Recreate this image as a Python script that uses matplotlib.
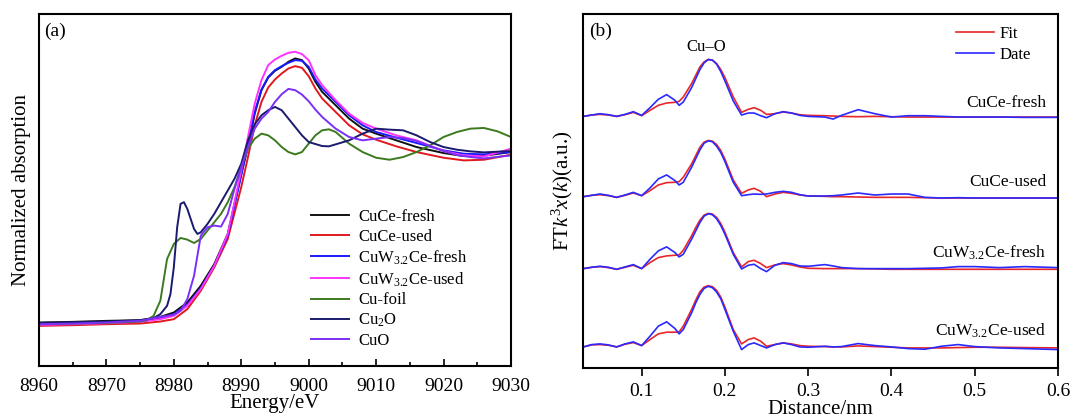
import matplotlib
matplotlib.use("Agg")
import matplotlib.pyplot as plt
from matplotlib.ticker import MultipleLocator

plt.rcParams['font.family'] = ['Liberation Serif', 'DejaVu Serif']
plt.rcParams['mathtext.fontset'] = 'custom'
plt.rcParams['mathtext.rm'] = 'Liberation Serif'
plt.rcParams['mathtext.it'] = 'Liberation Serif:italic'

# ---- (a) XANES ----
E_s = [8960, 8965, 8970, 8975, 8978, 8980, 8982, 8984, 8986, 8988, 8990, 8991, 8992,
       8993, 8994, 8995, 8996, 8997, 8998, 8999, 9000, 9001, 9002, 9004, 9006, 9008,
       9010, 9013, 9016, 9020, 9023, 9026, 9030]
cuce_fresh = [0.01, 0.014, 0.02, 0.024, 0.044, 0.07, 0.13, 0.23, 0.36, 0.54, 0.90, 1.06, 1.26,
              1.40, 1.476, 1.516, 1.54, 1.57, 1.59, 1.58, 1.53, 1.45, 1.39, 1.31, 1.23, 1.17,
              1.14, 1.10, 1.06, 1.024, 1.006, 1.008, 1.03]
cuce_used = [-0.01, -0.006, 0.0, 0.004, 0.016, 0.03, 0.09, 0.20, 0.34, 0.51, 0.82, 1.00, 1.19,
             1.33, 1.416, 1.464, 1.50, 1.53, 1.544, 1.534, 1.484, 1.41, 1.35, 1.27, 1.19, 1.136,
             1.104, 1.064, 1.03, 0.996, 0.98, 0.984, 1.014]
cuwce_fresh = [0.0, 0.004, 0.01, 0.016, 0.036, 0.06, 0.116, 0.216, 0.35, 0.53, 0.89, 1.08, 1.27,
               1.404, 1.48, 1.52, 1.544, 1.564, 1.58, 1.576, 1.54, 1.464, 1.41, 1.33, 1.25, 1.19,
               1.15, 1.116, 1.084, 1.04, 1.02, 1.016, 1.03]
cuwce_used = [-0.004, 0.0, 0.006, 0.014, 0.03, 0.05, 0.11, 0.21, 0.35, 0.54, 0.92, 1.12, 1.32,
              1.46, 1.55, 1.584, 1.606, 1.624, 1.63, 1.616, 1.58, 1.49, 1.43, 1.34, 1.26, 1.204,
              1.17, 1.13, 1.10, 1.036, 1.01, 1.004, 1.05]

E_foil = [8960, 8965, 8970, 8975, 8976, 8977, 8978, 8979, 8980, 8981, 8982, 8983, 8984, 8985,
          8986, 8987, 8988, 8989, 8990, 8991, 8992, 8993, 8994, 8995, 8996, 8997, 8998, 8999,
          9000, 9001, 9002, 9003, 9004, 9006, 9008, 9010, 9012, 9014, 9016, 9018, 9020, 9022,
          9024, 9026, 9028, 9030]
cu_foil = [0.0, 0.004, 0.008, 0.016, 0.024, 0.05, 0.14, 0.39, 0.48, 0.516, 0.506, 0.486, 0.51,
           0.56, 0.61, 0.66, 0.73, 0.82, 0.94, 1.05, 1.11, 1.14, 1.13, 1.10, 1.06, 1.03, 1.016,
           1.03, 1.08, 1.13, 1.16, 1.166, 1.15, 1.08, 1.03, 0.996, 0.984, 1.0, 1.03, 1.07, 1.12,
           1.15, 1.17, 1.174, 1.154, 1.12]

E_cu2o = [8960, 8965, 8970, 8975, 8977, 8978, 8979, 8979.5, 8980, 8980.5, 8981, 8981.5, 8982,
          8982.5, 8983, 8983.5, 8984, 8985, 8986, 8987, 8988, 8989, 8990, 8991, 8992, 8993,
          8994, 8995, 8996, 8997, 8998, 8999, 9000, 9002, 9003, 9004, 9006, 9008, 9010, 9012,
          9014, 9016, 9018, 9020, 9022, 9024, 9026, 9030]
cu2o = [0.008, 0.012, 0.016, 0.024, 0.036, 0.06, 0.11, 0.18, 0.34, 0.58, 0.72, 0.73, 0.69,
        0.63, 0.57, 0.54, 0.55, 0.60, 0.66, 0.73, 0.80, 0.87, 0.96, 1.10, 1.196, 1.25, 1.28,
        1.30, 1.28, 1.23, 1.18, 1.13, 1.09, 1.066, 1.064, 1.076, 1.10, 1.14, 1.17, 1.164, 1.16,
        1.13, 1.09, 1.06, 1.044, 1.034, 1.028, 1.036]

E_cuo = [8960, 8965, 8970, 8975, 8978, 8980, 8981, 8982, 8983, 8983.5, 8984, 8985, 8986, 8987,
         8988, 8989, 8990, 8991, 8992, 8993, 8994, 8995, 8996, 8997, 8998, 8999, 9000, 9001,
         9002, 9004, 9006, 9008, 9010, 9012, 9014, 9016, 9018, 9020, 9022, 9024, 9026, 9030]
cuo = [0.0, 0.004, 0.01, 0.02, 0.044, 0.056, 0.08, 0.15, 0.29, 0.41, 0.53, 0.58, 0.59, 0.584,
       0.66, 0.81, 0.94, 1.06, 1.17, 1.23, 1.27, 1.33, 1.376, 1.408, 1.40, 1.374, 1.334, 1.284,
       1.24, 1.17, 1.12, 1.10, 1.11, 1.12, 1.114, 1.096, 1.066, 1.036, 1.012, 1.0, 0.992, 1.01]

# ---- (b) EXAFS FT, traces already stacked ----
R = [0.03, 0.04, 0.05, 0.06, 0.07, 0.08, 0.09, 0.10,
     0.11, 0.12, 0.13, 0.14, 0.145, 0.15,
     0.16, 0.165, 0.17, 0.175, 0.18, 0.185, 0.19, 0.195, 0.20,
     0.21, 0.22, 0.228, 0.235, 0.243, 0.25,
     0.26, 0.27, 0.28, 0.29, 0.30,
     0.32, 0.33, 0.34, 0.36, 0.38, 0.40,
     0.42, 0.44, 0.46, 0.48, 0.50,
     0.53, 0.56, 0.60]
fresh_date = [7.52, 7.56, 7.60, 7.57, 7.52, 7.58, 7.66, 7.55,
              7.78, 8.03, 8.17, 8.00, 7.85, 7.95,
              8.38, 8.65, 8.92, 9.12, 9.22, 9.20, 9.08, 8.86, 8.58,
              7.98, 7.56, 7.62, 7.62, 7.54, 7.48,
              7.60, 7.66, 7.62, 7.55, 7.52,
              7.50, 7.44, 7.55, 7.72, 7.60, 7.50,
              7.54, 7.54, 7.52, 7.50, 7.50,
              7.50, 7.49, 7.49]
fresh_fit = [7.52, 7.56, 7.58, 7.56, 7.52, 7.57, 7.64, 7.54,
             7.70, 7.85, 7.92, 7.94, 7.97, 8.10,
             8.50, 8.75, 9.00, 9.15, 9.22, 9.20, 9.10, 8.92, 8.68,
             8.10, 7.64, 7.73, 7.78, 7.70, 7.58,
             7.60, 7.65, 7.62, 7.57, 7.55,
             7.54, 7.53, 7.52, 7.51, 7.52, 7.51,
             7.50, 7.50, 7.50, 7.50, 7.50,
             7.50, 7.50, 7.50]
used_date = [5.12, 5.16, 5.20, 5.16, 5.10, 5.17, 5.25, 5.15,
             5.38, 5.65, 5.77, 5.60, 5.47, 5.55,
             6.00, 6.26, 6.52, 6.72, 6.79, 6.76, 6.63, 6.44, 6.17,
             5.55, 5.15, 5.18, 5.20, 5.19, 5.20,
             5.25, 5.28, 5.25, 5.18, 5.14,
             5.14, 5.15, 5.17, 5.23, 5.17, 5.20,
             5.20, 5.10, 5.08, 5.09, 5.08,
             5.08, 5.08, 5.08]
used_fit = [5.12, 5.16, 5.18, 5.15, 5.10, 5.16, 5.23, 5.15,
            5.30, 5.47, 5.54, 5.55, 5.57, 5.70,
            6.10, 6.35, 6.60, 6.75, 6.80, 6.78, 6.68, 6.50, 6.24,
            5.62, 5.22, 5.32, 5.37, 5.28, 5.12,
            5.20, 5.25, 5.22, 5.17, 5.14,
            5.13, 5.12, 5.12, 5.11, 5.10, 5.10,
            5.10, 5.09, 5.08, 5.08, 5.08,
            5.08, 5.08, 5.08]
wfresh_date = [2.97, 3.01, 3.04, 3.01, 2.95, 3.02, 3.09, 2.97,
               3.25, 3.50, 3.62, 3.45, 3.32, 3.40,
               3.85, 4.10, 4.35, 4.54, 4.61, 4.58, 4.46, 4.26, 4.00,
               3.40, 2.96, 3.07, 3.10, 2.97, 2.88,
               3.07, 3.15, 3.12, 3.05, 3.04,
               3.09, 3.05, 3.00, 2.97, 2.97, 2.97,
               2.97, 2.98, 2.99, 3.03, 3.03,
               3.00, 3.03, 3.00]
wfresh_fit = [2.97, 3.01, 3.03, 3.00, 2.95, 3.01, 3.07, 2.97,
              3.15, 3.30, 3.35, 3.37, 3.38, 3.52,
              3.95, 4.20, 4.42, 4.57, 4.62, 4.60, 4.50, 4.32, 4.06,
              3.45, 3.02, 3.18, 3.22, 3.12, 3.00,
              3.08, 3.12, 3.08, 3.02, 2.98,
              2.97, 2.97, 2.97, 2.97, 2.96, 2.95,
              2.95, 2.95, 2.95, 2.95, 2.95,
              2.95, 2.95, 2.95]
wused_date = [0.63, 0.70, 0.72, 0.69, 0.63, 0.72, 0.78, 0.67,
              0.95, 1.25, 1.38, 1.18, 1.02, 1.15,
              1.65, 1.95, 2.20, 2.38, 2.44, 2.40, 2.27, 2.07, 1.75,
              1.10, 0.55, 0.70, 0.75, 0.67, 0.60,
              0.70, 0.75, 0.70, 0.63, 0.62,
              0.65, 0.63, 0.64, 0.73, 0.67, 0.63,
              0.58, 0.56, 0.65, 0.70, 0.64,
              0.60, 0.58, 0.55]
wused_fit = [0.63, 0.69, 0.70, 0.68, 0.63, 0.71, 0.76, 0.67,
             0.85, 1.02, 1.07, 1.07, 1.08, 1.25,
             1.75, 2.03, 2.28, 2.42, 2.46, 2.43, 2.32, 2.12, 1.82,
             1.15, 0.72, 0.85, 0.90, 0.80, 0.65,
             0.70, 0.75, 0.72, 0.67, 0.65,
             0.64, 0.63, 0.63, 0.66, 0.64, 0.62,
             0.60, 0.60, 0.60, 0.61, 0.62,
             0.62, 0.61, 0.60]

trace_labels = ['CuCe-fresh', 'CuCe-used', 'CuW$_{3.2}$Ce-fresh', 'CuW$_{3.2}$Ce-used']
label_y = [7.92, 5.55, 3.45, 1.10]

fig = plt.figure(figsize=(10.73, 4.2), dpi=100)
ax1 = fig.add_axes([0.0363, 0.1286, 0.4399, 0.8381])
ax2 = fig.add_axes([0.5433, 0.1238, 0.4427, 0.8429])

lw = 1.4
ax1.plot(E_s, cuce_fresh, color='#111111', lw=lw, label='CuCe-fresh')
ax1.plot(E_s, cuce_used, color='#e0191e', lw=lw, label='CuCe-used')
ax1.plot(E_s, cuwce_fresh, color='#1a1aff', lw=lw, label='CuW$_{3.2}$Ce-fresh')
ax1.plot(E_s, cuwce_used, color='#ff33ff', lw=lw, label='CuW$_{3.2}$Ce-used')
ax1.plot(E_foil, cu_foil, color='#3b7a1e', lw=lw, label='Cu-foil')
ax1.plot(E_cu2o, cu2o, color='#1a1a6e', lw=lw, label='Cu$_2$O')
ax1.plot(E_cuo, cuo, color='#7b2ff7', lw=lw, label='CuO')

ax1.set_xlim(8960, 9030)
ax1.set_ylim(-0.25, 1.856)
ax1.xaxis.set_major_locator(MultipleLocator(10))
ax1.xaxis.set_minor_locator(MultipleLocator(5))
ax1.tick_params(axis='x', which='both', direction='in', labelsize=14, width=1.2, pad=9)
ax1.tick_params(axis='x', which='major', length=5)
ax1.tick_params(axis='x', which='minor', length=3)
ax1.set_yticks([])
ax1.set_xlabel('Energy/eV', fontsize=15, labelpad=-1)
ax1.set_ylabel('Normalized absorption', fontsize=15, labelpad=6)
ax1.text(0.012, 0.975, '(a)', transform=ax1.transAxes, fontsize=14, va='top')
ax1.legend(loc='upper left', bbox_to_anchor=(0.558, 0.47), frameon=False, fontsize=12,
           handlelength=2.3, handletextpad=0.55, labelspacing=0.22, borderpad=0)

ax2.plot(R, fresh_fit, color='#e8262a', lw=1.2, label='Fit')
ax2.plot(R, fresh_date, color='#2a2aff', lw=1.2, label='Date')
ax2.plot(R, used_fit, color='#e8262a', lw=1.2)
ax2.plot(R, used_date, color='#2a2aff', lw=1.2)
ax2.plot(R, wfresh_fit, color='#e8262a', lw=1.2)
ax2.plot(R, wfresh_date, color='#2a2aff', lw=1.2)
ax2.plot(R, wused_fit, color='#e8262a', lw=1.2)
ax2.plot(R, wused_date, color='#2a2aff', lw=1.2)

for lab, yy in zip(trace_labels, label_y):
    ax2.text(0.586, yy, lab, fontsize=12.5, ha='right', va='center')
ax2.text(0.178, 9.6, 'Cu\u2013O', fontsize=12, ha='center', va='center')

ax2.set_xlim(0.0295, 0.6)
ax2.set_ylim(0, 10.58)
ax2.set_xticks([0.1, 0.2, 0.3, 0.4, 0.5, 0.6])
ax2.set_xticklabels(['0.1', '0.2', '0.3', '0.4', '0.5', '0.6'])
ax2.tick_params(axis='x', direction='out', labelsize=14, length=6, width=1.2, pad=5)
ax2.set_yticks([])
ax2.set_xlabel('Distance/nm', fontsize=15, labelpad=0)
ax2.set_ylabel('FT$k^3$$x$($k$)(a.u.)', fontsize=15, labelpad=6)
ax2.text(0.012, 0.975, '(b)', transform=ax2.transAxes, fontsize=14, va='top')
ax2.legend(loc='upper left', bbox_to_anchor=(0.768, 0.99), frameon=False, fontsize=12,
           handlelength=2.3, handletextpad=0.3, labelspacing=0.3, borderpad=0)

for ax in (ax1, ax2):
    for s in ax.spines.values():
        s.set_linewidth(1.5)

fig.savefig('out.png', dpi=100)
